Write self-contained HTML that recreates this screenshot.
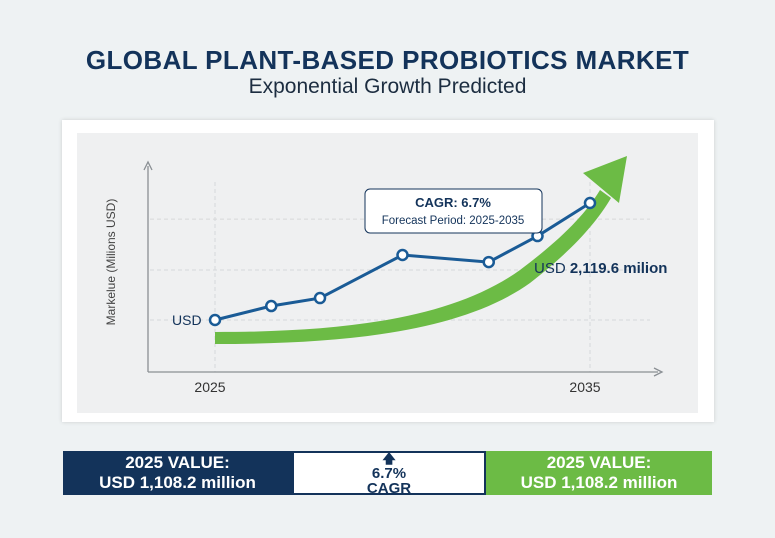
<!DOCTYPE html>
<html><head><meta charset="utf-8"><style>
body{margin:0;width:775px;height:538px;overflow:hidden;background:#eef2f3;font-family:"Liberation Sans",sans-serif;position:relative}
.t{position:absolute;left:0;width:775px;text-align:center;color:#13335a}
.box{position:absolute;top:451px;height:44px;display:flex;flex-direction:column;justify-content:center;align-items:center;font-weight:bold;text-align:center;box-sizing:border-box}
</style></head><body>
<div class="t" style="top:45px;font-size:26px;font-weight:bold;letter-spacing:0.4px">GLOBAL PLANT-BASED PROBIOTICS MARKET</div>
<div class="t" style="top:75px;font-size:21px;color:#1c2d40">Exponential Growth Predicted</div>
<div style="position:absolute;left:62px;top:120px;width:652px;height:302px;background:#fff;box-shadow:0 0 4px rgba(0,0,0,.15)"></div>
<div style="position:absolute;left:77px;top:133px;width:621px;height:280px;background:#eff0f1"></div>
<svg id="chart" width="775" height="538" style="position:absolute;left:0;top:0"></svg>
<div class="box" style="left:63px;width:229px;background:#13335a;color:#fff;font-size:17px;line-height:20px">2025 VALUE:<br>USD 1,108.2 million</div>
<div class="box" style="left:292px;width:194px;background:#fff;border:2px solid #13335a;color:#13335a;font-size:15px;line-height:15px"><span style="font-size:13px">&#129093;</span>6.7%<br>CAGR</div>
<div class="box" style="left:486px;width:226px;background:#6cbb45;color:#fff;font-size:17px;line-height:20px">2025 VALUE:<br>USD 1,108.2 million</div>
<script>
const years=[2025,2026.5,2027.8,2030,2032.3,2033.6,2035];
const values=[1108.2,1229,1298,1670,1609,1834,2119.6];
const gridValues=[1108.2,1540,1980];
const xTicks=["2025","2035"];
const NS="http://www.w3.org/2000/svg",svg=document.getElementById('chart');
const x=v=>215+(v-2025)*37.5, y=v=>320-(v-1108.2)*0.11567;
function mk(t,a,p){const e=document.createElementNS(NS,t);for(const k in a)e.setAttribute(k,a[k]);(p||svg).appendChild(e);return e;}
gridValues.forEach(g=>{const l=mk('line',{x1:150,x2:650,y1:y(g),y2:y(g),stroke:'#d6d8da','stroke-dasharray':'4 3'});

});
[2025,2035].forEach(v=>{const l=mk('line',{x1:x(v),x2:x(v),y1:182,y2:372,stroke:'#d6d8da','stroke-dasharray':'4 3'});

});
let ax=mk('path',{d:'M148 372V166M144 170L148 162L152 170M148 372H658M654 368L662 372L654 376',stroke:'#8a8f94','stroke-width':1.3,fill:'none'});


let yl=mk('text',{x:0,y:0,transform:'translate(115,262) rotate(-90)','text-anchor':'middle','font-size':12,fill:'#444'});yl.textContent='Markelue (Milions USD)';


xTicks.forEach((t,i)=>{const e=mk('text',{x:x(+t)-5,y:392,'text-anchor':'middle','font-size':14,fill:'#333'});e.textContent=t;

});
let arr=mk('path',{d:'M215 332C340 332 450 320 520 270C560 240 585 215 600 190L611 198C595 225 570 252 530 283C460 333 340 344 215 344Z',fill:'#6cbb45'});


let ah=mk('path',{d:'M583 173L627 156L619 203Z',fill:'#6cbb45'});


let pl=mk('polyline',{points:years.map((v,i)=>x(v)+','+y(values[i])).join(' '),stroke:'#1a5b96','stroke-width':3,fill:'none'});


years.forEach((v,i)=>{const c=mk('circle',{cx:x(v),cy:y(values[i]),r:5,fill:'#fff',stroke:'#1a5b96','stroke-width':2.5});

});
let us=mk('text',{x:172,y:325,'font-size':14,fill:'#13335a'});us.textContent='USD';


let el=mk('text',{x:534,y:273,'font-size':15,'font-weight':'bold',fill:'#13335a'});el.innerHTML='<tspan font-weight="normal">USD</tspan> 2,119.6 milion';


let cb=mk('rect',{x:365,y:189,width:177,height:44,rx:5,fill:'#fff',stroke:'#13335a','stroke-width':1});


let c1=mk('text',{x:453,y:207,'text-anchor':'middle','font-size':13,'font-weight':'bold',fill:'#13335a'});c1.textContent='CAGR: 6.7%';


let c2=mk('text',{x:453,y:224,'text-anchor':'middle','font-size':11.5,fill:'#13335a'});c2.textContent='Forecast Period: 2025-2035';


</script>
</body></html>
